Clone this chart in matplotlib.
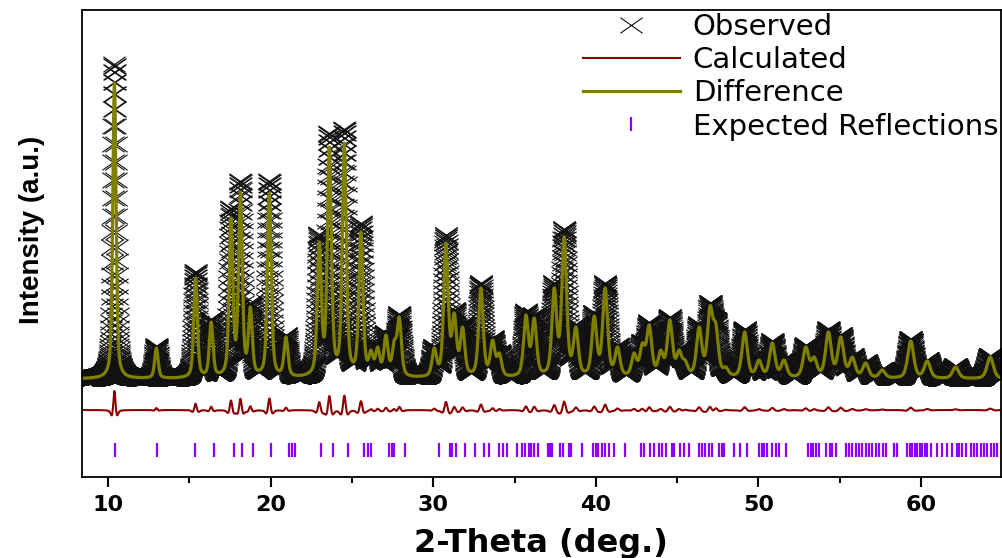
import numpy as np
import matplotlib
matplotlib.use("Agg")
import matplotlib.pyplot as plt
from matplotlib.path import Path

# Peak positions (deg) and apex heights of the fitted profile
peak_pos = [10.39, 12.97, 15.38, 16.34, 17.56, 18.14, 18.75, 19.92, 20.94,
            22.99, 23.61, 24.53, 25.55, 26.17, 26.58, 27.09, 27.60, 27.91,
            30.06, 30.78, 31.29, 31.80, 32.93, 33.65, 34.06, 35.70, 36.21,
            37.44, 38.05, 38.77, 39.90, 40.57, 41.33, 42.35, 42.86, 43.28,
            43.99, 44.55, 45.12, 45.49, 46.35, 47.02, 47.37, 47.99, 49.15,
            50.03, 50.85, 51.57, 52.91, 53.42, 54.30, 55.06, 55.77, 56.59,
            57.61, 59.36, 60.38, 62.12, 64.25]
peak_top = [394, 129, 199, 155, 259, 285, 170, 284, 140,
            235, 330, 334, 245, 127, 130, 142, 137, 160,
            129, 234, 164, 150, 189, 137, 124, 162, 159,
            189, 240, 150, 161, 189, 130, 124, 134, 152,
            127, 157, 127, 117, 150, 171, 154, 110, 145,
            117, 134, 117, 130, 120, 145, 140, 120, 114,
            107, 136, 116, 110, 120]

# Bragg reflection positions (deg)
refl_pos = [10.45, 13.00, 15.37, 16.50, 17.77, 18.22, 18.90, 20.04, 21.11, 21.29, 21.48,
            23.10, 23.81, 24.73, 25.76, 25.96, 26.17, 27.25, 27.46, 27.60, 28.28,
            30.37, 31.03, 31.15, 31.40, 31.95, 32.58, 33.13, 33.44, 34.06, 34.26,
            34.51, 35.12, 35.45, 35.65, 35.86, 36.00, 36.21, 36.43, 37.03, 37.17,
            37.33, 37.79, 37.95, 38.32, 38.46, 39.14, 39.83, 40.00, 40.16,
            40.36, 40.57, 40.81, 41.12, 41.80, 42.76, 42.97, 43.31, 43.58, 43.89,
            44.09, 44.34, 44.67, 44.81, 45.16, 45.42, 45.73, 46.35, 46.51, 46.71,
            46.96, 47.16, 47.57, 47.74, 47.90, 48.50, 48.84, 49.32, 50.03, 50.20,
            50.34, 50.55, 50.81, 51.06, 51.26, 51.67, 53.07, 53.21, 53.35, 53.56,
            53.72, 54.13, 54.38, 54.54, 54.75, 55.36, 55.56, 55.77, 55.97, 56.18,
            56.38, 56.59, 56.79, 57.00, 57.20, 57.41, 57.65, 57.82, 58.33, 58.54,
            59.15, 59.29, 59.46, 59.62, 59.77, 59.91, 60.07, 60.24, 60.38, 60.58,
            60.99, 61.30, 61.61, 61.92, 62.23, 62.33, 62.53, 62.74, 63.04, 63.25,
            63.45, 63.66, 63.86, 64.07, 64.27, 64.48, 64.68]

background = 98
diff_offset = 67
refl_level = 27
obs_narrowing = 0.94


def pseudo_voigt(x, c, w, eta=0.5):
    u = (x - c) / w
    return eta / (1 + 4 * u ** 2) + (1 - eta) * np.exp(-4 * np.log(2) * u ** 2)


pos = np.array(peak_pos)
fwhm = 0.24 + 0.004 * (pos - 10)
A = pseudo_voigt(pos[:, None], pos[None, :], fwhm[None, :])
heights = np.clip(np.linalg.solve(A, np.array(peak_top) - background), 0, None)

two_theta = np.arange(8.38, 64.92, 0.01)
calc = background + sum(h * pseudo_voigt(two_theta, c, w)
                        for h, c, w in zip(heights, pos, fwhm))
obs = background + sum(h / obs_narrowing * pseudo_voigt(two_theta, c, w * obs_narrowing)
                       for h, c, w in zip(heights, pos, fwhm))
diff = obs - calc + diff_offset

cross = Path([(-1, -0.7), (1, 0.7), (-1, 0.7), (1, -0.7)],
             [Path.MOVETO, Path.LINETO, Path.MOVETO, Path.LINETO])

fig = plt.figure(figsize=(10.03, 5.58), dpi=100)
ax = fig.add_axes([0.0815, 0.1452, 0.9166, 0.8369])

ax.plot(two_theta, obs, linestyle="none", marker=cross, markersize=16,
        markerfacecolor="none", markeredgecolor="#111111", markeredgewidth=0.8,
        label="Observed")
ax.plot(two_theta, diff, color="#8b0000", lw=1.5, label="Calculated")
ax.plot(two_theta, calc, color="#808000", lw=2.3, label="Difference")
ax.plot(refl_pos, [refl_level] * len(refl_pos), linestyle="none", marker="|",
        markersize=10, markeredgewidth=1.6, color="#8b00ff",
        label="Expected Reflections")

ax.set_xlim(8.38, 64.92)
ax.set_ylim(0, 467)
ax.set_yticks([])
ax.set_xticks([10, 20, 30, 40, 50, 60])
ax.set_xticks([15, 25, 35, 45, 55], minor=True)
ax.tick_params(axis="x", which="major", direction="out", length=7, width=1.5, pad=6)
ax.tick_params(axis="x", which="minor", direction="out", length=4, width=1.5)
for lab in ax.get_xticklabels():
    lab.set_fontfamily("DejaVu Sans")
    lab.set_fontweight("bold")
    lab.set_fontsize(16)
for sp in ax.spines.values():
    sp.set_linewidth(1.3)

ax.set_xlabel("2-Theta (deg.)", fontfamily="DejaVu Sans", fontweight="bold",
              fontsize=23, labelpad=9)
ax.set_ylabel("Intensity (a.u.)", fontfamily="Liberation Sans", fontweight="bold",
              fontsize=20)
ax.yaxis.set_label_coords(-0.040, 0.53)

ax.legend(loc="upper right", bbox_to_anchor=(1.0, 1.0), frameon=False,
          prop={"family": "DejaVu Sans", "size": 21}, borderaxespad=0,
          borderpad=0.1, labelspacing=0.18, handlelength=3.3, handletextpad=0.45,
          numpoints=1)

fig.savefig("out.png", dpi=100)
